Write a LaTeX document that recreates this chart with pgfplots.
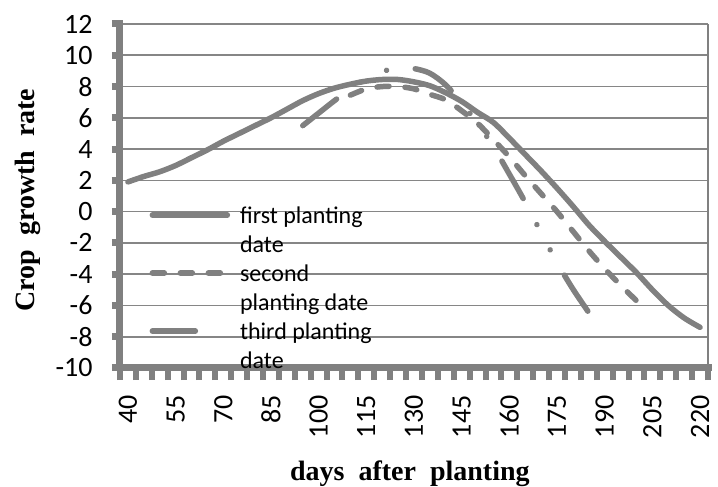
\documentclass[border=0pt]{standalone}
\usepackage{pgfplots}
\pgfplotsset{compat=1.18}
\usepackage{fontspec}
\setmainfont{Carlito}
\newfontfamily\tnr{Liberation Serif}
\definecolor{cg}{RGB}{128,128,128}
\definecolor{gridc}{RGB}{134,134,134}
\pgfplotsset{short legend/.style={legend image code/.code={\draw[##1] (0pt,2pt) -- (43pt,2pt);}}}
\begin{document}
\begin{tikzpicture}
\path[use as bounding box] (-120pt,-119pt) rectangle (598pt,368pt);
\begin{axis}[
  at={(0pt,0pt)}, anchor=south west,
  scale only axis, width=588pt, height=344pt,
  xmin=37.5, xmax=222.5, ymin=-10, ymax=12,
  clip=false,
  axis x line*=bottom, axis y line*=left,
  axis line style={-},
  x axis line style={line width=7pt, cg, line cap=rect},
  y axis line style={line width=7pt, cg, line cap=rect},
  xtick={40,55,...,220},
  minor xtick={37.5,42.5,...,222.5},
  ytick={-10,-8,...,12},
  tick align=outside,
  major tick length=8pt, minor tick length=12pt,
  major x tick style={draw=none},
  minor x tick style={line width=6pt, cg},
  major y tick style={line width=7pt, cg},
  ymajorgrids,
  major grid style={gridc, line width=1.6pt},
  /pgf/number format/assume math mode=true,
  tick label style={font=\fontsize{28}{28}\selectfont},
  xticklabel style={yshift=-16pt, rotate=90, anchor=east},
  yticklabel style={xshift=-16pt},
  legend style={at={(rel axis cs:0.05,0.474)}, anchor=north west, draw=none, fill=none,
    font=\fontsize{24}{29}\selectfont, row sep=5pt, column sep=10pt, inner sep=0pt,
    nodes={inner sep=0pt, text height=18pt, text depth=6pt}},
  legend cell align=left,
  legend image code/.code={\draw[#1] (0pt,2pt) -- (75pt,2pt);},
]
\addplot[cg, line width=5.5pt, line cap=round, line join=round, smooth] coordinates {
(40,1.9) (45,2.25) (50,2.55) (55,2.95) (60,3.45) (65,3.95) (70,4.5) (75,5.0) (80,5.5)
(85,6.0) (90,6.55) (95,7.1) (100,7.55) (105,7.9) (110,8.15) (115,8.35) (120,8.45)
(125,8.45) (130,8.3) (135,8.05) (140,7.6) (145,7.05) (150,6.35) (155,5.7) (160,4.7)
(165,3.65) (170,2.6) (175,1.5) (180,0.35) (185,-0.85) (190,-1.9) (195,-2.9) (200,-3.9)
(205,-5.0) (210,-6.0) (215,-6.8) (220,-7.4)};
\addlegendentry{first planting}
\addlegendimage{empty legend}
\addlegendentry{date}
\addplot[cg, line width=5.5pt, line cap=round, line join=round, smooth, dash pattern=on 12pt off 16pt] coordinates {
(110,7.45) (115,7.85) (120,8.0) (125,8.0) (130,7.85) (135,7.5) (140,7.15) (145,6.45)
(150,5.65) (155,4.6) (160,3.5) (165,2.3) (170,1.15) (175,0.0) (180,-1.25) (185,-2.5)
(190,-3.65) (195,-4.7) (200,-5.7)};
\addlegendentry{second}
\addlegendimage{empty legend}
\addlegendentry{planting date}
\addplot[cg, line width=5.5pt, line cap=round, line join=round, smooth,
  dash pattern=on 43pt off 29.5pt on 0.01pt off 28.5pt on 0.01pt off 29pt, short legend] coordinates {
(95,5.5) (100,6.3) (105,7.1) (110,7.85) (115,8.5) (120,8.95) (125,9.2) (130,9.15)
(135,8.85) (140,8.1) (145,6.95) (150,5.65) (155,4.15) (160,2.4) (165,0.6) (170,-1.35)
(175,-3.25) (180,-4.95) (187,-7.05)};
\addlegendentry{third planting}
\addlegendimage{empty legend}
\addlegendentry{date}
\draw[cg, line width=1.6pt] (rel axis cs:1,0) -- (rel axis cs:1,1);
\node[font=\tnr\bfseries\fontsize{28}{28}\selectfont, anchor=base] at (rel axis cs:0.493,-0.3256) {days\ \ after\ \ planting};
\node[font=\tnr\bfseries\fontsize{28}{28}\selectfont, rotate=90, anchor=center] at (rel axis cs:-0.1565,0.488) {Crop\ \ growth\ \ rate};
\end{axis}
\end{tikzpicture}
\end{document}
